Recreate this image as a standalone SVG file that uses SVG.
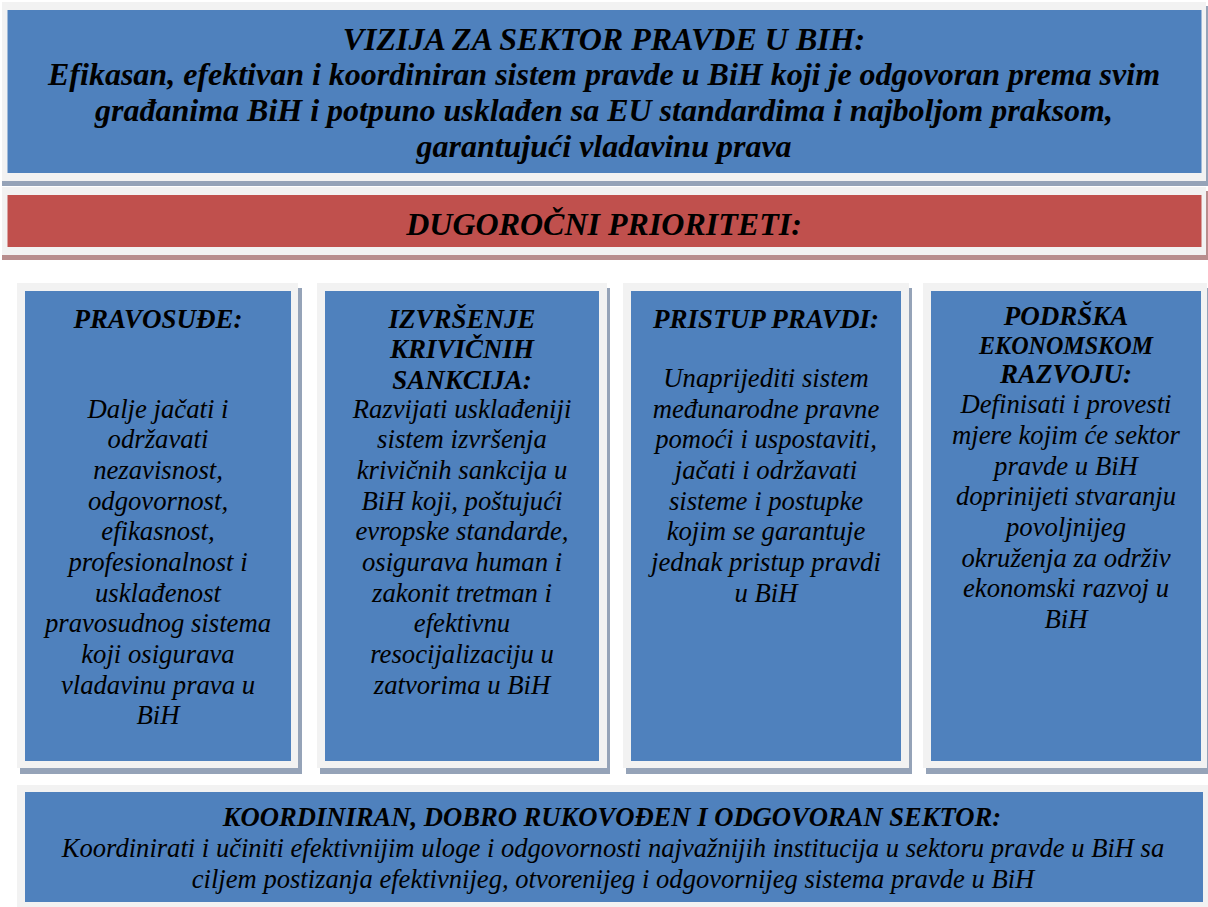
<svg xmlns="http://www.w3.org/2000/svg" width="1208" height="907" viewBox="0 0 1208 907">
<style>
.frame{fill:#f2f2f2}
.sb{fill:#95a3b8}
.sr{fill:#b88d8d}
.blue{fill:#4f81bd}
.red{fill:#c0504d}
text{font-family:"Liberation Serif","Times New Roman",serif;font-style:italic;fill:#000;text-anchor:middle}
.b{font-weight:bold}
.t1{font-size:32px}
.t2{font-size:32px}
.h{font-size:27px}
.hs{font-size:26px}
.p{font-size:26.7px}
.q{font-size:26.6px}
</style>
<rect width="1208" height="907" fill="#ffffff"/>
<g id="vizija">
<rect class="sb" x="2" y="6" width="1206" height="180"/>
<rect class="frame" x="2" y="2" width="1204" height="179"/>
<rect class="blue" x="7.5" y="10" width="1194" height="163"/>
<text class="b t1" x="604" y="50">VIZIJA ZA SEKTOR PRAVDE U BIH:</text>
<text class="b t1" x="604" y="85">Efikasan, efektivan i koordiniran sistem pravde u BiH koji je odgovoran prema svim</text>
<text class="b t1" x="604" y="121">građanima BiH i potpuno usklađen sa EU standardima i najboljom praksom,</text>
<text class="b t1" x="604" y="157">garantujući vladavinu prava</text>
</g>
<g id="prioriteti">
<rect class="sr" x="2" y="191" width="1206" height="69"/>
<rect class="frame" x="2" y="187" width="1204" height="68"/>
<rect class="red" x="7.5" y="195" width="1194" height="52"/>
<text class="b t2" x="604" y="235">DUGOROČNI PRIORITETI:</text>
</g>
<g id="pravosudje">
<rect class="sb" x="20" y="288" width="282" height="486"/>
<rect class="frame" x="17" y="283" width="281" height="485"/>
<rect class="blue" x="25" y="291" width="266" height="470"/>
<text class="b h" x="158" y="328">PRAVOSUĐE:</text>
<text class="p" x="158" y="418">Dalje jačati i</text>
<text class="p" x="158" y="448">održavati</text>
<text class="p" x="158" y="479">nezavisnost,</text>
<text class="p" x="158" y="510">odgovornost,</text>
<text class="p" x="158" y="540">efikasnost,</text>
<text class="p" x="158" y="571">profesionalnost i</text>
<text class="p" x="158" y="602">usklađenost</text>
<text class="p" x="158" y="632">pravosudnog sistema</text>
<text class="p" x="158" y="663">koji osigurava</text>
<text class="p" x="158" y="694">vladavinu prava u</text>
<text class="p" x="158" y="724">BiH</text>
</g>
<g id="izvrsenje">
<rect class="sb" x="320" y="288" width="290" height="486"/>
<rect class="frame" x="317" y="283" width="290" height="485"/>
<rect class="blue" x="325" y="291" width="274" height="470"/>
<text class="b h" x="462" y="328">IZVRŠENJE</text>
<text class="b h" x="462" y="358">KRIVIČNIH</text>
<text class="b h" x="462" y="389">SANKCIJA:</text>
<text class="p" x="462" y="418">Razvijati usklađeniji</text>
<text class="p" x="462" y="448">sistem izvršenja</text>
<text class="p" x="462" y="479">krivičnih sankcija u</text>
<text class="p" x="462" y="510">BiH koji, poštujući</text>
<text class="p" x="462" y="540">evropske standarde,</text>
<text class="p" x="462" y="571">osigurava human i</text>
<text class="p" x="462" y="602">zakonit tretman i</text>
<text class="p" x="462" y="632">efektivnu</text>
<text class="p" x="462" y="663">resocijalizaciju u</text>
<text class="p" x="462" y="694">zatvorima u BiH</text>
</g>
<g id="pristup">
<rect class="sb" x="626" y="288" width="286" height="486"/>
<rect class="frame" x="623" y="283" width="286" height="485"/>
<rect class="blue" x="631" y="291" width="270" height="470"/>
<text class="b h" x="766" y="328">PRISTUP PRAVDI:</text>
<text class="p" x="766" y="387">Unaprijediti sistem</text>
<text class="p" x="766" y="418">međunarodne pravne</text>
<text class="p" x="766" y="448">pomoći i uspostaviti,</text>
<text class="p" x="766" y="479">jačati i održavati</text>
<text class="p" x="766" y="510">sisteme i postupke</text>
<text class="p" x="766" y="540">kojim se garantuje</text>
<text class="p" x="766" y="571">jednak pristup pravdi</text>
<text class="p" x="766" y="602">u BiH</text>
</g>
<g id="podrska">
<rect class="sb" x="926" y="288" width="282" height="486"/>
<rect class="frame" x="923" y="283" width="284" height="485"/>
<rect class="blue" x="931" y="291" width="270" height="470"/>
<text class="b h" x="1066" y="325">PODRŠKA</text>
<text class="b hs" x="1066" y="354" textLength="174" lengthAdjust="spacingAndGlyphs">EKONOMSKOM</text>
<text class="b h" x="1066" y="383">RAZVOJU:</text>
<text class="p" x="1066" y="413">Definisati i provesti</text>
<text class="p" x="1066" y="444">mjere kojim će sektor</text>
<text class="p" x="1066" y="475">pravde u BiH</text>
<text class="p" x="1066" y="505">doprinijeti stvaranju</text>
<text class="p" x="1066" y="536">povoljnijeg</text>
<text class="p" x="1066" y="567">okruženja za održiv</text>
<text class="p" x="1066" y="597">ekonomski razvoj u</text>
<text class="p" x="1066" y="628">BiH</text>
</g>
<g id="koordiniran">
<rect class="frame" x="17" y="785" width="1191" height="122"/>
<rect class="blue" x="25" y="792" width="1178" height="110"/>
<text class="b q" x="612" y="826">KOORDINIRAN, DOBRO RUKOVOĐEN I ODGOVORAN SEKTOR:</text>
<text class="q" x="613" y="857">Koordinirati i učiniti efektivnijim uloge i odgovornosti najvažnijih institucija u sektoru pravde u BiH sa</text>
<text class="q" x="613" y="888">ciljem postizanja efektivnijeg, otvorenijeg i odgovornijeg sistema pravde u BiH</text>
</g>
<g id="connectors"></g>
</svg>
